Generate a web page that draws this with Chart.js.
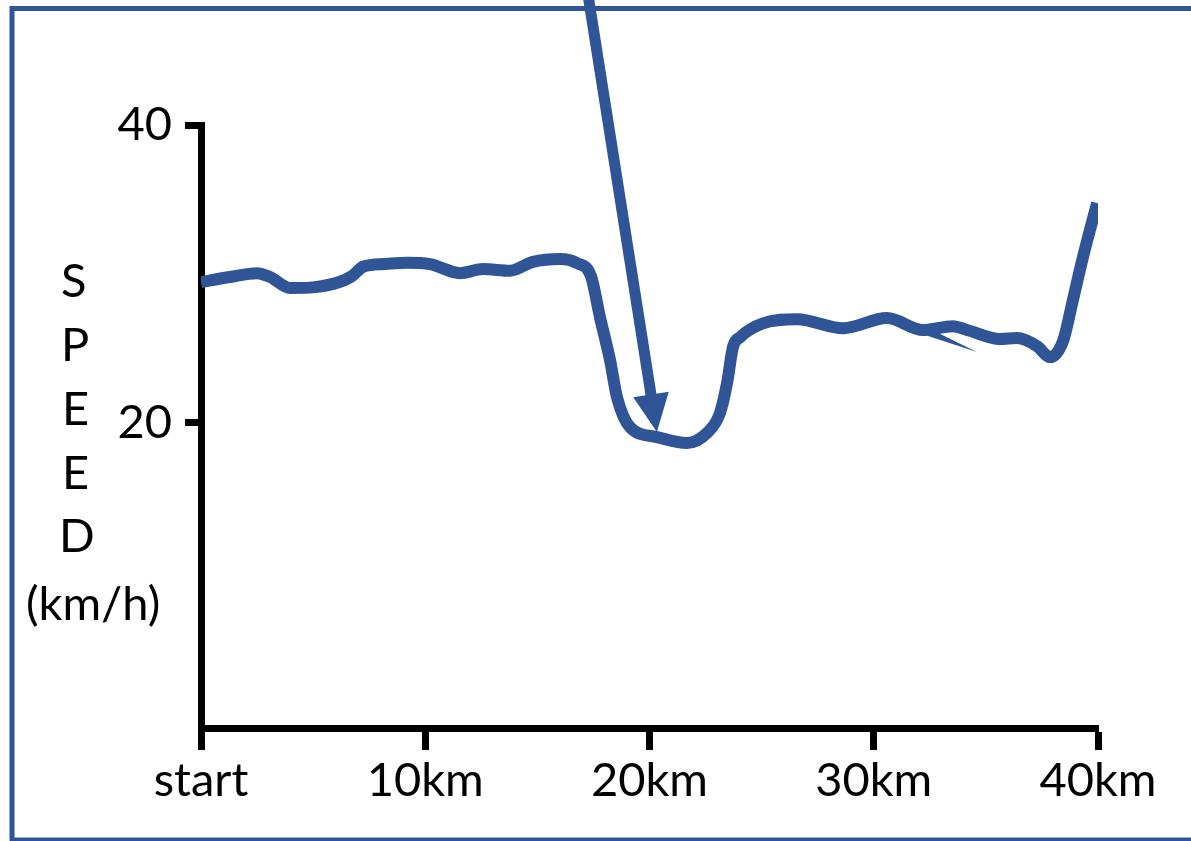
<!DOCTYPE html>
<html>
<head>
<meta charset="utf-8">
<title>Speed over distance</title>
<script src="https://cdn.jsdelivr.net/npm/chart.js@4.4.1/dist/chart.umd.min.js"></script>
<style>
  html, body { margin: 0; padding: 0; background: #ffffff; }
  #wrap { width: 1191px; height: 841px; position: relative; }
  canvas { display: block; }
</style>
</head>
<body>
<div id="wrap"><canvas id="chart" width="1191" height="841"></canvas></div>
<script>
// Distance along the course (km) and measured speed (km/h)
const distanceKm = [
  0, 1.29, 2.50, 3.08, 3.97, 5.08, 6.20, 6.73, 7.23, 8.20, 9.19, 10.21,
  11.55, 12.58, 13.78, 14.80, 16.01, 16.77, 17.39, 17.79, 18.24,
  18.55, 19.13, 20.33, 21.67, 22.56, 23.14, 23.46, 23.72, 24.04, 25.06,
  26.58, 28.63, 30.59, 32.20, 33.53, 34.16, 35.63, 36.39, 37.28, 37.86,
  38.44, 38.88, 39.33, 39.96
];
const speedKmh = [
  29.45, 29.79, 30.05, 29.79, 29.05, 29.11, 29.47, 29.85, 30.48, 30.66, 30.75, 30.66,
  30.05, 30.32, 30.21, 30.81, 31.00, 30.72, 29.85, 27.10, 24.21,
  21.72, 19.71, 19.04, 18.64, 19.31, 20.65, 22.68, 25.08, 25.75, 26.68,
  26.95, 26.35, 27.03, 26.23, 26.49, 26.23, 25.62, 25.69, 25.15, 24.41,
  25.49, 28.24, 31.13, 34.76
];

// Small stray wedge off the trace near 33 km
const spurKm = [32.42, 34.60, 32.42];
const spurKmh = [26.36, 24.75, 25.83];

// Axis ticks
const xTickValues = [0, 10, 20, 30, 40];
const xTickLabels = ['start', '10km', '20km', '30km', '40km'];
const yTickValues = [20, 40];
const yTickLabels = ['20', '40'];
const axisTitleLines = ['S', 'P', 'E', 'E', 'D', '(km/h)'];

// Pointer arrow: tail (off the top) and head, in [km, km/h]
const arrowTail = [17.26, 48.72];
const arrowHead = [20.33, 19.38];

const BLUE = '#2F5597';
const FONT = 'Lato, "Open Sans", sans-serif';

const toPoints = (xs, ys) => xs.map((x, i) => ({ x: x, y: ys[i] }));

// Page frame
const framePlugin = {
  id: 'frame',
  beforeDraw(chart) {
    const ctx = chart.ctx;
    ctx.save();
    ctx.fillStyle = '#ffffff';
    ctx.fillRect(0, 0, chart.width, chart.height);
    ctx.strokeStyle = BLUE;
    ctx.lineWidth = 5;
    ctx.strokeRect(12, 8.5, 1300, 831.5);
    ctx.restore();
  }
};

// Stacked vertical axis title
const stackedTitlePlugin = {
  id: 'stackedTitle',
  afterDraw(chart) {
    const ctx = chart.ctx;
    ctx.save();
    ctx.fillStyle = '#000000';
    ctx.font = '47px ' + FONT;
    ctx.textBaseline = 'alphabetic';
    ctx.textAlign = 'left';
    const baselines = [297, 361, 425, 489, 552, 620];
    const lefts = [61, 61, 62, 62, 59, 26];
    axisTitleLines.forEach((t, i) => ctx.fillText(t, lefts[i], baselines[i]));
    ctx.restore();
  }
};

// Arrow drawn in data space
const arrowPlugin = {
  id: 'arrow',
  afterDraw(chart) {
    const xs = chart.scales.x, ys = chart.scales.y;
    const x0 = xs.getPixelForValue(arrowTail[0]), y0 = ys.getPixelForValue(arrowTail[1]);
    const x1 = xs.getPixelForValue(arrowHead[0]), y1 = ys.getPixelForValue(arrowHead[1]);
    const ang = Math.atan2(y1 - y0, x1 - x0);
    const headLen = 38, headHalf = 18;
    const bx = x1 - headLen * Math.cos(ang), by = y1 - headLen * Math.sin(ang);
    const ctx = chart.ctx;
    ctx.save();
    ctx.strokeStyle = BLUE;
    ctx.fillStyle = BLUE;
    ctx.lineWidth = 11;
    ctx.lineCap = 'butt';
    ctx.beginPath();
    ctx.moveTo(x0, y0);
    ctx.lineTo(bx + 2 * Math.cos(ang), by + 2 * Math.sin(ang));
    ctx.stroke();
    ctx.beginPath();
    ctx.moveTo(x1, y1);
    ctx.lineTo(bx + headHalf * Math.sin(ang), by - headHalf * Math.cos(ang));
    ctx.lineTo(bx - headHalf * Math.sin(ang), by + headHalf * Math.cos(ang));
    ctx.closePath();
    ctx.fill();
    ctx.restore();
  }
};

new Chart(document.getElementById('chart'), {
  type: 'line',
  data: {
    datasets: [
      {
        label: 'Speed',
        data: toPoints(distanceKm, speedKmh),
        borderColor: BLUE,
        borderWidth: 12,
        pointRadius: 0,
        fill: false,
        cubicInterpolationMode: 'monotone',
        borderCapStyle: 'butt',
        borderJoinStyle: 'round'
      },
      {
        label: 'Spur',
        data: toPoints(spurKm, spurKmh),
        borderWidth: 0,
        borderColor: BLUE,
        backgroundColor: BLUE,
        pointRadius: 0,
        tension: 0,
        fill: 'shape'
      }
    ]
  },
  options: {
    responsive: false,
    animation: false,
    devicePixelRatio: 1,
    layout: { padding: { left: 0, right: 93, top: 125, bottom: 0 } },
    plugins: { legend: { display: false }, tooltip: { enabled: false } },
    scales: {
      x: {
        type: 'linear',
        min: 0,
        max: 40,
        afterBuildTicks(axis) { axis.ticks = xTickValues.map(v => ({ value: v })); },
        afterFit(axis) { axis.height = 113; },
        border: { display: true, color: '#000000', width: 7 },
        grid: { drawOnChartArea: false, drawTicks: true, tickLength: 22, tickWidth: 7, tickColor: '#000000' },
        ticks: {
          color: '#000000',
          font: { family: FONT, size: 47 },
          padding: 3,
          maxRotation: 0,
          autoSkip: false,
          callback: (v) => xTickLabels[xTickValues.indexOf(v)]
        }
      },
      y: {
        type: 'linear',
        min: -0.5,
        max: 40,
        afterBuildTicks(axis) { axis.ticks = yTickValues.map(v => ({ value: v })); },
        afterFit(axis) { axis.width = 201; },
        border: { display: true, color: '#000000', width: 7 },
        grid: { drawOnChartArea: false, drawTicks: true, tickLength: 16, tickWidth: 7, tickColor: '#000000' },
        ticks: {
          color: '#000000',
          font: { family: FONT, size: 47 },
          padding: 13,
          autoSkip: false,
          callback: (v) => yTickLabels[yTickValues.indexOf(v)]
        }
      }
    }
  },
  plugins: [framePlugin, stackedTitlePlugin, arrowPlugin]
});
</script>
</body>
</html>
